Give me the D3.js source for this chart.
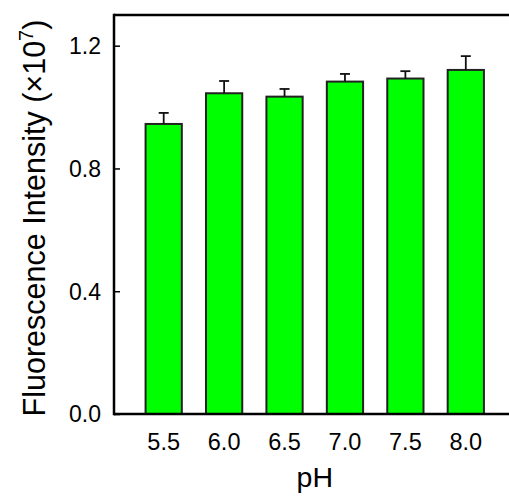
<!DOCTYPE html>
<html>
<head>
  <meta charset="utf-8">
  <script src="https://cdnjs.cloudflare.com/ajax/libs/d3/7.8.5/d3.min.js"></script>
  <title>pH</title>
  <style>
    body { margin: 0; background: #fff; }
    text { font-family: "Liberation Sans", Arial, sans-serif; fill: #000; }
  </style>
</head>
<body>
<script>
var ph = [5.5, 6.0, 6.5, 7.0, 7.5, 8.0];
var intensidad = [0.945, 1.045, 1.034, 1.083, 1.093, 1.121];
var error = [0.036, 0.040, 0.025, 0.025, 0.024, 0.045];
var yTicks = [0.0, 0.4, 0.8, 1.2];

var ancho = 509, alto = 499;
var izq = 114, arriba = 15, abajo = 414;

// x scale: pH -> pixel, bar centres 0.5 apart
var x = d3.scaleLinear().domain([5.5, 8.0]).range([163.7, 465.8]);
var y = d3.scaleLinear().domain([0, 1.3]).range([abajo, arriba]);
var barW = x(5.8) - x(5.5);

var svg = d3.select("body").append("svg")
  .attr("width", ancho)
  .attr("height", alto);

// bars
svg.selectAll("rect.bar").data(ph).enter().append("rect")
  .attr("class", "bar")
  .attr("x", function(d) { return x(d) - barW / 2; })
  .attr("y", function(d, i) { return y(intensidad[i]); })
  .attr("width", barW)
  .attr("height", function(d, i) { return abajo - y(intensidad[i]); })
  .attr("fill", "#00ff00")
  .attr("stroke", "#222")
  .attr("stroke-width", 2);

// error bars (up only)
var eb = svg.selectAll("g.err").data(ph).enter().append("g").attr("class", "err");
eb.append("line")
  .attr("x1", function(d) { return x(d); })
  .attr("x2", function(d) { return x(d); })
  .attr("y1", function(d, i) { return y(intensidad[i]); })
  .attr("y2", function(d, i) { return y(intensidad[i] + error[i]); })
  .attr("stroke", "#111").attr("stroke-width", 1.8);
eb.append("line")
  .attr("x1", function(d) { return x(d) - 5; })
  .attr("x2", function(d) { return x(d) + 5; })
  .attr("y1", function(d, i) { return y(intensidad[i] + error[i]); })
  .attr("y2", function(d, i) { return y(intensidad[i] + error[i]); })
  .attr("stroke", "#111").attr("stroke-width", 1.8);

// frame: top and bottom run off the right edge
svg.append("line").attr("x1", izq).attr("x2", ancho).attr("y1", arriba).attr("y2", arriba)
  .attr("stroke", "#000").attr("stroke-width", 2.5);
svg.append("line").attr("x1", izq).attr("x2", ancho).attr("y1", abajo).attr("y2", abajo)
  .attr("stroke", "#000").attr("stroke-width", 2.5);

// y axis with inward ticks
var yAxis = svg.append("g")
  .attr("transform", "translate(" + izq + ",0)")
  .call(d3.axisRight(y).tickValues(yTicks).tickSize(6).tickFormat(""));
yAxis.select(".domain").attr("stroke-width", 2.5)
  .attr("d", "M0," + (arriba - 1.2) + "V" + (abajo + 1.2));
yAxis.selectAll(".tick line").attr("stroke-width", 1.5);

svg.selectAll("text.yl").data(yTicks).enter().append("text")
  .attr("class", "yl")
  .attr("x", 101)
  .attr("y", function(d) { return y(d); })
  .attr("dy", "0.36em")
  .attr("text-anchor", "end")
  .attr("font-size", 23)
  .text(function(d) { return d.toFixed(1); });

svg.selectAll("text.xl").data(ph).enter().append("text")
  .attr("class", "xl")
  .attr("x", function(d) { return x(d); })
  .attr("y", 450)
  .attr("text-anchor", "middle")
  .attr("font-size", 23.5)
  .text(function(d) { return d.toFixed(1); });

svg.append("text")
  .attr("x", (x(6.5) + x(7.0)) / 2)
  .attr("y", 487)
  .attr("text-anchor", "middle")
  .attr("font-size", 28.5)
  .text("pH");

var tit = svg.append("text")
  .attr("transform", "translate(45,218) rotate(-90)")
  .attr("text-anchor", "middle")
  .attr("font-size", 30.5);
tit.append("tspan").text("Fluorescence Intensity (\u00d710");
tit.append("tspan").attr("font-size", 20).attr("dy", -12).text("7");
tit.append("tspan").attr("dy", 12).text(")");
</script>
</body>
</html>
